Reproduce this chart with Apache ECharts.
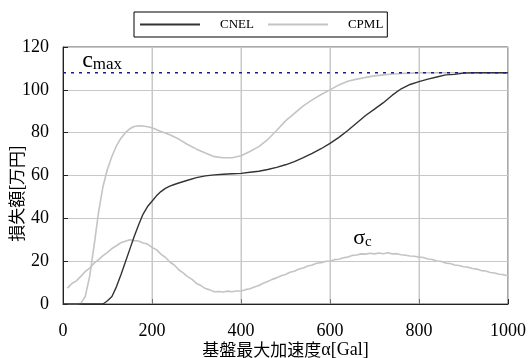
<!DOCTYPE html>
<html>
<head>
<meta charset="utf-8">
<script src="https://cdn.jsdelivr.net/npm/echarts@6/dist/echarts.min.js"></script>
<style>
  html, body { margin: 0; padding: 0; background: #fff; }
  #chart { width: 531px; height: 358px; }
</style>
</head>
<body>
<div id="chart"></div>
<script>
// Expected loss vs. peak bedrock acceleration
const xTicks = [0, 200, 400, 600, 800, 1000];
const yTicks = [0, 20, 40, 60, 80, 100, 120];

const cnelX = [0, 20, 40, 60, 80, 90, 100, 110, 120, 130, 140, 150, 160, 170, 180, 190, 200, 210, 220, 230, 240, 250, 260, 280, 300, 320, 340, 360, 380, 400, 420, 440, 460, 480, 500, 520, 540, 560, 580, 600, 620, 640, 660, 680, 700, 720, 740, 760, 780, 800, 820, 840, 860, 880, 900, 920, 940, 960, 980, 1000];
const cnelY = [0, 0, 0, 0, 0, 0, 1.5, 3.5, 8, 13.5, 19.5, 25.5, 31.5, 37, 42, 45.5, 48, 50.5, 52.5, 54, 55, 55.8, 56.5, 57.8, 59, 59.8, 60.3, 60.6, 60.8, 61, 61.5, 62, 62.8, 63.8, 65, 66.5, 68.3, 70.3, 72.5, 75, 77.8, 81, 84.5, 88, 91, 94, 97.5, 100.5, 102.5, 103.8, 105, 106, 107, 107.2, 107.8, 108, 108, 108, 108, 108];

const cpmlX = [10, 20, 30, 40, 50, 60, 70, 80, 90, 100, 110, 120, 130, 140, 150, 160, 170, 180, 190, 200, 220, 240, 260, 280, 300, 320, 340, 360, 380, 400, 420, 440, 460, 480, 500, 520, 540, 560, 580, 600, 620, 640, 660, 680, 700, 720, 740, 760, 780, 800, 850, 900, 950, 1000];
const cpmlY = [0, 0, 0, 0.3, 3.5, 13, 27.5, 43, 55, 63, 69, 73.8, 77.3, 80, 81.8, 82.9, 83.2, 83.1, 82.8, 82.3, 80.5, 79, 77, 74.5, 72.3, 70.5, 68.8, 68.3, 68.3, 69.2, 71.2, 73.5, 76.8, 81, 85.5, 89, 92.5, 95.3, 97.8, 100, 102.3, 104, 105, 105.8, 106.5, 107, 107.4, 107.6, 107.8, 108, 108, 108, 108, 108];

const sigmaX = [10, 20, 30, 40, 50, 60, 70, 80, 90, 100, 110, 120, 130, 140, 150, 160, 170, 180, 190, 200, 210, 220, 230, 240, 250, 260, 270, 280, 290, 300, 310, 320, 330, 340, 350, 360, 370, 380, 390, 400, 410, 420, 430, 440, 450, 460, 470, 480, 490, 500, 510, 520, 530, 540, 550, 560, 570, 580, 590, 600, 610, 620, 630, 640, 650, 660, 670, 680, 690, 700, 710, 720, 730, 740, 750, 760, 770, 780, 790, 800, 810, 820, 830, 840, 850, 860, 870, 880, 890, 900, 910, 920, 930, 940, 950, 960, 970, 980, 990, 1000];
const sigmaY = [7.4, 9.6, 10.8, 12.9, 15.2, 16.8, 19.1, 20.7, 22.6, 24.1, 25.9, 27.2, 28.6, 29.3, 30.0, 29.6, 29.4, 28.5, 28.0, 26.4, 25.4, 23.3, 21.8, 19.6, 18.2, 16.0, 14.5, 12.8, 11.5, 9.6, 8.6, 7.2, 6.6, 5.7, 5.8, 5.6, 6.0, 5.7, 6.1, 6.1, 6.7, 7.1, 7.9, 8.6, 9.7, 10.5, 11.5, 12.2, 13.2, 13.8, 14.8, 15.3, 16.3, 16.8, 17.7, 18.2, 19.0, 19.3, 19.9, 20.1, 20.7, 20.9, 21.6, 21.9, 22.7, 22.9, 23.4, 23.3, 23.7, 23.4, 23.8, 23.5, 23.9, 23.4, 23.5, 23.0, 22.8, 22.4, 22.3, 21.9, 21.7, 21.0, 20.8, 20.1, 19.9, 19.1, 18.9, 18.2, 18.0, 17.4, 17.2, 16.6, 16.3, 15.6, 15.4, 14.7, 14.5, 13.9, 13.7, 13.2];

const cMax = 108;
const cMaxLabelAt = [88, 113.5];
const sigmaLabelAt = [673, 30.8];

const zip = (xs, ys) => xs.map((x, i) => [x, ys[i]]);

const SERIF = '"Liberation Serif", "Times New Roman", serif';
const JP = '"Noto Sans CJK JP", "Noto Sans CJK SC", sans-serif';
const GRAY = '#c4c4c4';
const GRID_LINE = '#c8c8c8';
const yLo = yTicks[0], yHi = yTicks[yTicks.length - 1];

// one thin vertical rule per inner x tick, spanning the full y range
const xRuleSeries = xTicks.slice(1, -1).map(v => ({
  name: 'xrule' + v,
  type: 'line',
  data: [[v, yLo], [v, yHi]],
  showSymbol: false,
  silent: true,
  color: GRID_LINE,
  lineStyle: { color: GRID_LINE, width: 1 },
  emphasis: { disabled: true },
  z: 1
}));

const chart = echarts.init(document.getElementById('chart'), null, { renderer: 'canvas' });

chart.setOption({
  animation: false,
  backgroundColor: '#fff',
  grid: {
    left: 63, right: 23, top: 47, bottom: 54,
    outerBoundsMode: 'none',
    show: true, borderColor: '#555', borderWidth: 1
  },
  legend: {
    left: 134, top: 12,
    padding: [6, 4, 6, 6],
    itemGap: 14,
    itemWidth: 60,
    itemHeight: 2,
    icon: 'rect',
    borderColor: '#000',
    borderWidth: 1,
    borderRadius: 0,
    textStyle: { fontFamily: SERIF, fontSize: 13, color: '#000', padding: [0, 0, 0, 15] },
    data: ['CNEL', 'CPML']
  },
  xAxis: {
    type: 'value',
    min: xTicks[0], max: xTicks[xTicks.length - 1], interval: xTicks[1] - xTicks[0],
    name: '基盤最大加速度{s|α[Gal]}',
    nameLocation: 'middle',
    nameGap: 37,
    nameMoveOverlap: false,
    nameTextStyle: {
      fontFamily: JP, fontSize: 17, color: '#000',
      rich: { s: { fontFamily: SERIF, fontSize: 18, color: '#000' } }
    },
    axisLine: { show: true, lineStyle: { color: '#222', width: 1 } },
    axisTick: { show: true, inside: true, length: 5, lineStyle: { color: '#222' } },
    axisLabel: { fontFamily: SERIF, fontSize: 18, color: '#000', margin: 18, formatter: v => String(v) },
    splitLine: { show: true, lineStyle: { color: GRID_LINE, width: 1 } }
  },
  yAxis: {
    type: 'value',
    min: yLo, max: yHi, interval: yTicks[1] - yTicks[0],
    name: '損失額[万円]',
    nameLocation: 'middle',
    nameGap: 38,
    nameMoveOverlap: false,
    nameTextStyle: { fontFamily: JP, fontSize: 17, color: '#000', padding: [0, 36, 0, 0] },
    axisLine: { show: true, lineStyle: { color: '#222', width: 1 } },
    axisTick: { show: true, inside: true, length: 5, lineStyle: { color: '#222' } },
    axisLabel: { fontFamily: SERIF, fontSize: 18, color: '#000', margin: 14 },
    splitLine: { show: true, lineStyle: { color: GRID_LINE, width: 1 } }
  },
  series: xRuleSeries.concat([
    {
      name: 'σc',
      type: 'line',
      data: zip(sigmaX, sigmaY),
      showSymbol: false,
      color: GRAY,
      lineStyle: { color: GRAY, width: 1.6 },
      z: 2,
      markPoint: {
        symbol: 'circle', symbolSize: 0,
        label: {
          show: true,
          formatter: '{a|σ}{b|c}',
          rich: {
            a: { fontFamily: SERIF, fontSize: 22, color: '#000' },
            b: { fontFamily: SERIF, fontSize: 15, color: '#000', padding: [8, 0, 0, 0] }
          }
        },
        data: [{ coord: sigmaLabelAt }]
      }
    },
    {
      name: 'CPML',
      type: 'line',
      data: zip(cpmlX, cpmlY),
      showSymbol: false,
      color: GRAY,
      lineStyle: { color: GRAY, width: 1.6 },
      z: 3
    },
    {
      name: 'CNEL',
      type: 'line',
      data: zip(cnelX, cnelY),
      showSymbol: false,
      color: '#333',
      lineStyle: { color: '#333', width: 1.4 },
      z: 4
    },
    {
      name: 'cmax',
      type: 'line',
      data: [[xTicks[0], cMax], [xTicks[xTicks.length - 1], cMax]],
      showSymbol: false,
      color: '#1a1a90',
      lineStyle: { color: '#1a1a90', width: 1.5, type: [3, 5] },
      z: 5,
      markPoint: {
        symbol: 'circle', symbolSize: 0,
        label: {
          show: true,
          formatter: '{a|c}{b|max}',
          rich: {
            a: { fontFamily: SERIF, fontSize: 24, color: '#000' },
            b: { fontFamily: SERIF, fontSize: 17, color: '#000', padding: [8, 0, 0, 0] }
          }
        },
        data: [{ coord: cMaxLabelAt }]
      }
    }
  ])
});
</script>
</body>
</html>
